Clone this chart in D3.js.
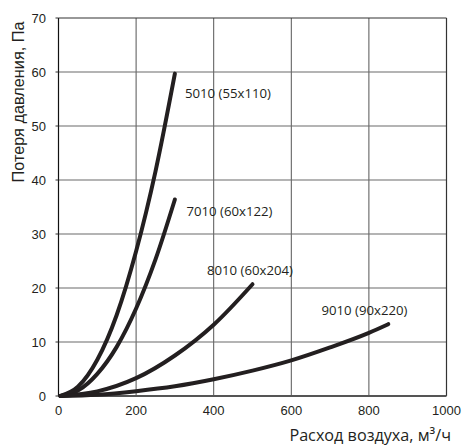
<!DOCTYPE html>
<html><head><meta charset="utf-8">
<script src="https://cdn.jsdelivr.net/npm/d3@7"></script>
<style>
body{margin:0;background:#fff;}
svg{display:block;}
</style></head>
<body>
<svg id="c" width="462" height="447"></svg>
<script>
const xTicks = [0, 200, 400, 600, 800, 1000];
const yTicks = [0, 10, 20, 30, 40, 50, 60, 70];

const flow5010 = [0, 50, 100, 150, 200, 250, 300];
const loss5010 = [0, 1.7, 6.7, 15.0, 26.8, 41.6, 59.7];

const flow7010 = [0, 50, 100, 150, 200, 250, 300];
const loss7010 = [0, 1.0, 4.1, 9.1, 16.2, 25.3, 36.4];

const flow8010 = [0, 100, 200, 300, 400, 500];
const loss8010 = [0, 0.85, 3.3, 7.5, 13.2, 20.7];

const flow9010 = [0, 100, 200, 300, 400, 500, 600, 700, 800, 850];
const loss9010 = [0, 0.25, 0.9, 1.8, 3.1, 4.7, 6.6, 9.0, 11.7, 13.3];

const seriesNames = ["5010 (55x110)", "7010 (60x122)", "8010 (60x204)", "9010 (90x220)"];
const xTitle = "Расход воздуха, м³/ч";
const yTitle = "Потеря давления, Па";

const series = [
  {name: seriesNames[0], x: flow5010, y: loss5010, lx: 185, ly: 98},
  {name: seriesNames[1], x: flow7010, y: loss7010, lx: 186.5, ly: 216},
  {name: seriesNames[2], x: flow8010, y: loss8010, lx: 207, ly: 275},
  {name: seriesNames[3], x: flow9010, y: loss9010, lx: 321.5, ly: 315}
];

const L = 58.5, R = 446.5, T = 18, B = 396;
const svg = d3.select("#c");
const x = d3.scaleLinear().domain([0, 1000]).range([L, R]);
const y = d3.scaleLinear().domain([0, 70]).range([B, T]);

// grid
const g = svg.append("g");
g.selectAll(".vx").data(xTicks.slice(1, -1)).join("line")
  .attr("x1", d => x(d)).attr("x2", d => x(d)).attr("y1", T).attr("y2", B)
  .attr("stroke", "#555").attr("stroke-width", 1);
g.selectAll(".hy").data(yTicks.slice(1, -1)).join("line")
  .attr("x1", L).attr("x2", R).attr("y1", d => y(d)).attr("y2", d => y(d))
  .attr("stroke", "#6a6a6a").attr("stroke-width", 1.2);
// frame
svg.append("line").attr("x1", L).attr("x2", R).attr("y1", T).attr("y2", T).attr("stroke", "#333").attr("stroke-width", 1.2);
svg.append("line").attr("x1", R).attr("x2", R).attr("y1", T).attr("y2", B).attr("stroke", "#333").attr("stroke-width", 1.2);
svg.append("line").attr("x1", L).attr("x2", L).attr("y1", T).attr("y2", B).attr("stroke", "#111").attr("stroke-width", 1.2);
svg.append("line").attr("x1", L).attr("x2", R).attr("y1", B).attr("y2", B).attr("stroke", "#555").attr("stroke-width", 2);

// y ticks
svg.selectAll(".yt").data(yTicks).join("line")
  .attr("x1", L - 3).attr("x2", L).attr("y1", d => y(d)).attr("y2", d => y(d))
  .attr("stroke", "#333").attr("stroke-width", 1);

// tick labels
const tf = "'Liberation Sans', Arial, sans-serif";
svg.selectAll(".yl").data(yTicks).join("text")
  .attr("x", 46).attr("y", d => y(d)).attr("dy", "0.36em")
  .attr("text-anchor", "end").attr("font-family", tf).attr("font-size", 13)
  .attr("fill", "#231f20").text(d => d);
svg.selectAll(".xl").data(xTicks).join("text")
  .attr("x", d => x(d)).attr("y", 415)
  .attr("text-anchor", "middle").attr("font-family", tf).attr("font-size", 13)
  .attr("fill", "#231f20").text(d => d);

// titles
svg.append("text").attr("transform", "translate(24,102) rotate(-90)")
  .attr("text-anchor", "middle").attr("font-family", tf).attr("font-size", 16.3)
  .attr("fill", "#231f20").text(yTitle);
svg.append("text").attr("x", 451).attr("y", 441)
  .attr("text-anchor", "end").attr("font-family", "'Open Sans', sans-serif").attr("font-size", 16.2)
  .attr("fill", "#231f20").text(xTitle);

// curves
const line = d3.line().x(d => x(d[0])).y(d => y(d[1])).curve(d3.curveMonotoneX);
series.forEach(s => {
  const pts = s.x.map((v, i) => [v, s.y[i]]);
  pts[0] = [5, 0];
  svg.append("path").attr("d", line(pts))
    .attr("fill", "none").attr("stroke", "#231f20").attr("stroke-width", 4)
    .attr("stroke-linecap", "round");
  svg.append("text").attr("x", s.lx).attr("y", s.ly)
    .attr("font-family", "'Open Sans', sans-serif").attr("font-size", 13.2)
    .attr("fill", "#231f20").text(s.name);
});
</script>
</body></html>
